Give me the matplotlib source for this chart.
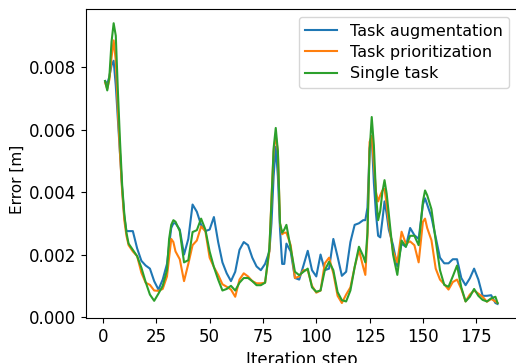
import matplotlib
matplotlib.use('Agg')
import matplotlib.pyplot as plt

plt.rcParams['font.family'] = ['DejaVu Sans']
plt.rcParams['font.size'] = 12

# iteration steps (finer around the spikes)
steps = [1, 2, 3, 4, 5, 6, 7, 8, 9, 10, 11, 12, 14, 16, 18, 20, 22, 24, 26, 28,
         30, 31, 32, 33, 34, 36, 38, 40, 42, 44, 46, 48, 50, 52, 54, 56, 58, 60,
         62, 64, 66, 68, 70, 72, 74, 76, 78, 79, 80, 81, 82, 83, 84, 85, 86, 88,
         90, 92, 94, 96, 98, 100, 102, 104, 106, 108, 110, 112, 114, 116, 118,
         120, 122, 123, 124, 125, 126, 127, 128, 129, 130, 131, 132, 133, 134,
         136, 138, 140, 142, 144, 146, 148, 150, 151, 152, 154, 156, 158, 160,
         162, 164, 166, 168, 170, 172, 174, 176, 178, 180, 182, 184, 185]

# errors in mm (scaled to m below)
err_augmentation = [7.55, 7.45, 7.7, 8.05, 8.2, 7.4, 6.3, 5.2, 4.1, 3.2, 2.75, 2.75, 2.75, 2.2, 1.8, 1.65, 1.55, 1.15, 0.88, 1.2,
                    1.7, 2.3, 2.85, 3.0, 3.0, 2.8, 2.0, 2.5, 3.6, 3.37, 2.95, 2.75, 2.8, 3.2, 2.4, 1.75, 1.4, 1.15,
                    1.45, 2.15, 2.4, 2.3, 1.9, 1.62, 1.5, 1.7, 2.1, 3.0, 4.5, 5.45, 4.5, 2.8, 1.7, 1.7, 2.35, 2.1,
                    1.25, 1.2, 1.65, 2.12, 1.5, 1.3, 2.0, 1.5, 1.55, 2.5, 1.93, 1.32, 1.45, 2.4, 2.95,
                    3.0, 3.1, 3.1, 3.5, 5.4, 5.75, 4.3, 3.3, 2.6, 2.55, 3.1, 3.7, 3.3, 2.8,
                    2.3, 1.62, 2.35, 2.25, 2.85, 2.62, 2.5, 3.6, 3.8, 3.6, 3.2, 2.55, 1.9, 1.72,
                    1.72, 1.85, 1.85, 1.25, 1.02, 1.24, 1.55, 1.2, 0.68, 0.68, 0.7, 0.45, 0.42]

err_prioritization = [7.5, 7.3, 7.6, 8.3, 8.85, 8.2, 6.6, 5.2, 4.0, 3.1, 2.6, 2.3, 2.1, 1.95, 1.42, 1.1, 1.03, 0.85, 0.84, 0.9,
                      1.3, 1.9, 2.5, 2.4, 2.1, 1.85, 1.15, 1.7, 2.3, 2.45, 2.9, 2.75, 1.9, 1.6, 1.35, 1.05, 0.97, 0.88,
                      0.65, 1.2, 1.4, 1.3, 1.15, 1.08, 1.08, 1.1, 2.1, 3.8, 5.3, 5.8, 5.3, 3.0, 2.65, 2.7, 2.7, 2.3,
                      1.25, 1.3, 1.5, 1.5, 1.0, 0.78, 0.85, 1.72, 1.9, 1.4, 0.68, 0.45, 0.72, 0.95, 1.6,
                      2.15, 1.6, 1.35, 2.6, 5.6, 5.8, 4.9, 4.0, 3.7, 3.9, 4.05, 4.1, 3.6, 3.0,
                      2.1, 1.75, 2.73, 2.35, 2.42, 2.3, 1.75, 3.05, 3.15, 2.85, 2.46, 1.55, 1.2, 1.05,
                      0.88, 1.12, 1.2, 0.9, 0.5, 0.72, 0.85, 0.75, 0.65, 0.49, 0.58, 0.5, 0.45]

err_single = [7.55, 7.25, 7.7, 8.8, 9.4, 9.0, 7.2, 5.6, 4.2, 3.3, 2.7, 2.35, 2.15, 1.95, 1.58, 1.12, 0.72, 0.52, 0.75, 1.0,
              1.5, 2.5, 2.95, 3.1, 3.05, 2.75, 1.75, 1.82, 2.72, 2.78, 3.15, 2.8, 2.1, 1.6, 1.2, 0.85, 0.9, 1.0,
              0.85, 1.1, 1.25, 1.25, 1.15, 1.02, 1.02, 1.1, 2.2, 3.7, 5.4, 6.05, 5.3, 3.0, 2.7, 2.8, 2.95, 2.2,
              1.45, 1.34, 1.45, 1.55, 0.95, 0.81, 0.85, 1.5, 1.77, 1.5, 0.8, 0.54, 0.5, 0.85, 1.6,
              2.25, 1.95, 1.75, 2.7, 5.3, 6.4, 5.5, 3.9, 3.1, 3.4, 4.0, 4.38, 3.95, 3.3,
              2.0, 1.35, 2.45, 2.25, 2.6, 2.6, 2.3, 3.7, 4.05, 3.9, 3.45, 2.45, 1.5, 1.03,
              0.97, 1.3, 1.65, 0.95, 0.5, 0.65, 0.9, 0.68, 0.55, 0.5, 0.6, 0.65, 0.45]

labels = ['Task augmentation', 'Task prioritization', 'Single task']

fig = plt.figure(figsize=(5.16, 3.63), dpi=100)
ax = fig.add_axes([0.1657, 0.124, 0.8366, 0.8507])

for series, lab in zip([err_augmentation, err_prioritization, err_single], labels):
    ax.plot(steps, [v / 1000 for v in series], label=lab)

ax.set_xlabel('Iteration step')
ax.set_ylabel('Error [m]', fontsize=11)
ax.yaxis.set_label_coords(-0.14, 0.45)
ax.set_xticks([0, 25, 50, 75, 100, 125, 150, 175])
ax.set_yticks([0.0, 0.002, 0.004, 0.006, 0.008])
ax.legend(loc='upper right', fontsize=11.5, labelspacing=0.4)

fig.savefig('out.png', dpi=100)
